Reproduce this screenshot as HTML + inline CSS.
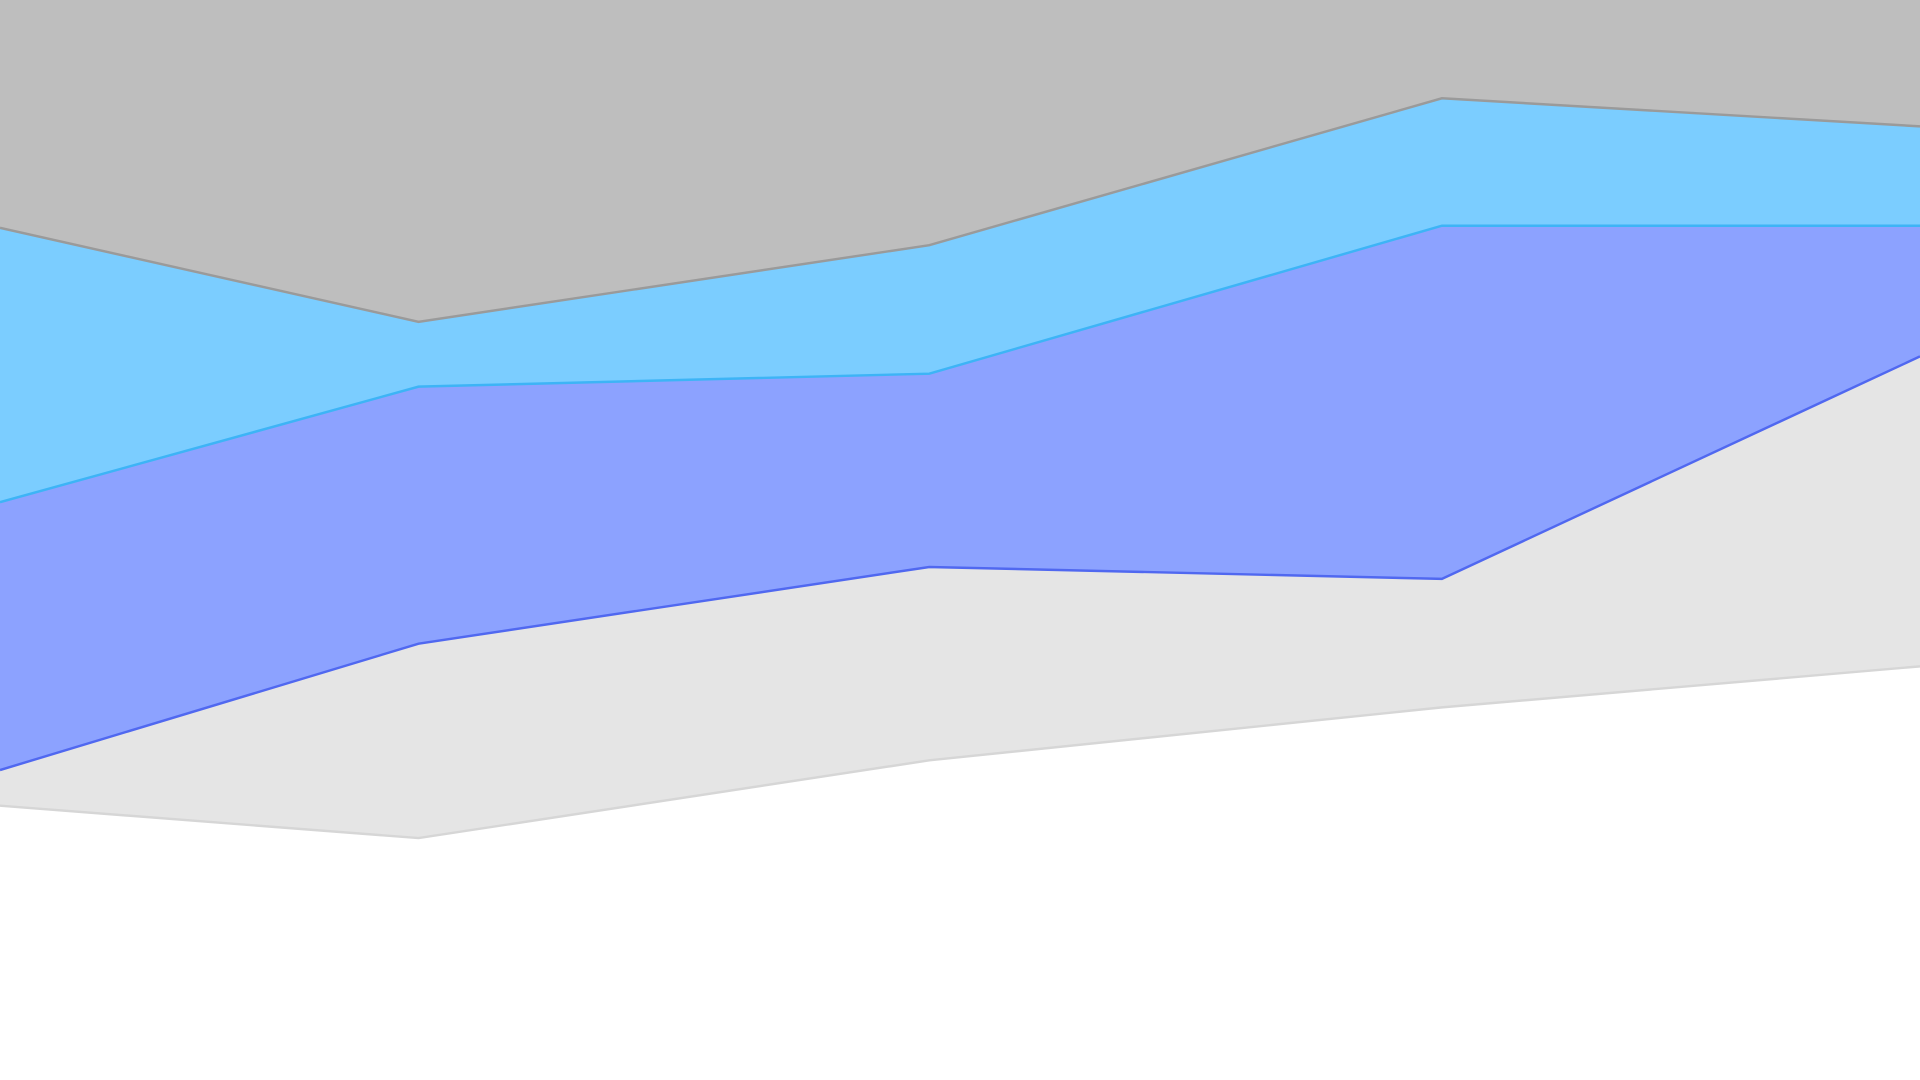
<!DOCTYPE html>
<html>
<head>
<meta charset="utf-8">
<style>
html,body{margin:0;padding:0;background:#fff;width:1920px;height:1080px;overflow:hidden;}
svg{display:block;}
</style>
</head>
<body>
<svg id="chart" width="1920" height="1080" viewBox="0 0 1568 882" preserveAspectRatio="none" xmlns="http://www.w3.org/2000/svg"></svg>
<script>
const xPositions = [0, 0.218, 0.484, 0.751, 1.0];
const seriesBase = [25.4, 22.4, 29.6, 34.5, 38.3];
const seriesGray = [3.3, 18.0, 17.9, 11.9, 28.7];
const seriesPeriwinkle = [24.8, 23.8, 17.9, 32.7, 12.1];
const seriesSky = [25.4, 6.0, 11.9, 11.8, 9.2];
const seriesTop = [21.1, 29.8, 22.7, 9.1, 11.7];

const W = 1568, H = 882;
function xScale(v){ return v * W; }
function yScale(v){ return H - v / 100 * H; }

const layers = [
  {name:'area-base', data:seriesBase, fill:'#ffffff', stroke:'#d6d6d6'},
  {name:'area-gray', data:seriesGray, fill:'#e5e5e5', stroke:'#5068f0'},
  {name:'area-periwinkle', data:seriesPeriwinkle, fill:'#8ca2ff', stroke:'#3db4f6'},
  {name:'area-sky', data:seriesSky, fill:'#7bcdff', stroke:'#9a9a9a'},
  {name:'area-top', data:seriesTop, fill:'#bebebe', stroke:'none'}
];
const svg = document.getElementById('chart');
const NS = 'http://www.w3.org/2000/svg';
let lower = xPositions.map(() => 0);
const lines = [];
layers.forEach(l => {
  const upper = lower.map((v,i) => v + l.data[i]);
  const top = xPositions.map((x,i) => [xScale(x), yScale(upper[i])]);
  const bot = xPositions.map((x,i) => [xScale(x), yScale(lower[i])]).reverse();
  const poly = document.createElementNS(NS, 'polygon');
  poly.setAttribute('points', top.concat(bot).map(p => p.join(',')).join(' '));
  poly.setAttribute('fill', l.fill);
  
  
  svg.appendChild(poly);
  if (l.stroke !== 'none') lines.push({pts: top, stroke: l.stroke, name: l.name});
  lower = upper;
});
lines.forEach(l => {
  const pl = document.createElementNS(NS, 'polyline');
  pl.setAttribute('points', l.pts.map(p => p.join(',')).join(' '));
  pl.setAttribute('fill', 'none');
  pl.setAttribute('stroke', l.stroke);
  pl.setAttribute('stroke-width', '2');
  
  
  svg.appendChild(pl);
});
</script>
</body>
</html>
